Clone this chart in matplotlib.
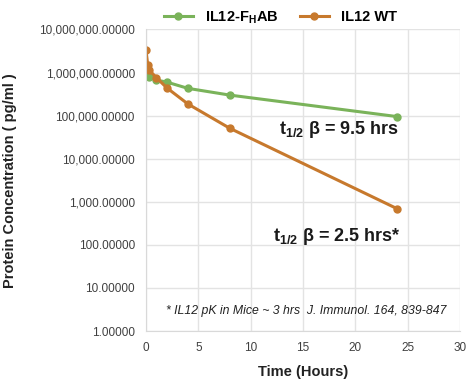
import numpy as np
import matplotlib
matplotlib.use("Agg")
import matplotlib.pyplot as plt
from matplotlib.ticker import FixedLocator, FuncFormatter

# Sampling times (hours) and concentrations (pg/ml)
t_fhab = [0.17, 0.29, 1, 2, 4, 8, 24]
c_fhab = [1.0e6, 8.0e5, 6.7e5, 6.0e5, 4.3e5, 3.0e5, 9.5e4]

t_wt = [0, 0.17, 0.29, 1, 2, 4, 8, 24]
c_wt = [3.3e6, 1.5e6, 1.15e6, 7.6e5, 4.4e5, 1.87e5, 5.1e4, 690]

x_ticks = [0, 5, 10, 15, 20, 25, 30]
y_ticks = [1, 10, 100, 1e3, 1e4, 1e5, 1e6, 1e7]

green = '#7AB35A'
orange = '#C7792D'

plt.rcParams['font.family'] = ['Liberation Sans', 'DejaVu Sans']
plt.rcParams['mathtext.fontset'] = 'custom'
plt.rcParams['mathtext.rm'] = 'Liberation Sans'
plt.rcParams['mathtext.bf'] = 'Liberation Sans:bold'

fig = plt.figure(figsize=(4.67, 3.81), dpi=100)
ax = fig.add_axes([0.3126, 0.1312, 0.6724, 0.7914])

ax.plot(t_fhab, c_fhab, color=green, marker='o', markersize=5, linewidth=2.2,
        label=r'IL12-F$_\mathbf{H}$AB')
ax.plot(t_wt, c_wt, color=orange, marker='o', markersize=5, linewidth=2.2,
        label='IL12 WT')

ax.set_yscale('log')
ax.set_xlim(0, 30)
ax.set_ylim(1, 1e7)
ax.xaxis.set_major_locator(FixedLocator(x_ticks))
ax.yaxis.set_major_locator(FixedLocator(y_ticks))
ax.yaxis.set_minor_locator(FixedLocator([]))
ax.yaxis.set_major_formatter(FuncFormatter(lambda v, p: f'{v:,.5f}'))

ax.grid(True, color='#e3e3e3', linewidth=1)
ax.set_axisbelow(True)
for s in ['top', 'right']:
    ax.spines[s].set_visible(False)
for s in ['left', 'bottom']:
    ax.spines[s].set_color('#d9d9d9')
ax.tick_params(length=0, labelsize=8.5, labelcolor='#404040', pad=8)

ax.set_xlabel('Time (Hours)', fontsize=10.5, fontweight='bold', color='#222222', labelpad=8)
ax.set_ylabel('Protein Concentration ( pg/ml )', fontsize=10.5, fontweight='bold',
              color='#222222', labelpad=6)
ax.yaxis.set_label_coords(-0.41, 0.5)

ax.text(18.4, 10**4.67, r'$\mathbf{t}_{\mathbf{1/2}}$ β = 9.5 hrs', fontsize=13,
        fontweight='bold', ha='center', va='center', color='#1a1a1a')
ax.text(18.2, 10**2.2, r'$\mathbf{t}_{\mathbf{1/2}}$ β = 2.5 hrs*', fontsize=13,
        fontweight='bold', ha='center', va='center', color='#1a1a1a')
ax.text(15.3, 10**0.47, '* IL12 pK in Mice ~ 3 hrs  J. Immunol. 164, 839-847',
        fontsize=8.8, style='italic', ha='center', va='center', color='#222222')

leg = fig.legend(loc='upper center', bbox_to_anchor=(0.6, 1.01), ncol=2, frameon=False,
                 prop={'weight': 'bold', 'size': 10.5}, handlelength=2, columnspacing=1.5)

fig.savefig('out.png', dpi=100)
